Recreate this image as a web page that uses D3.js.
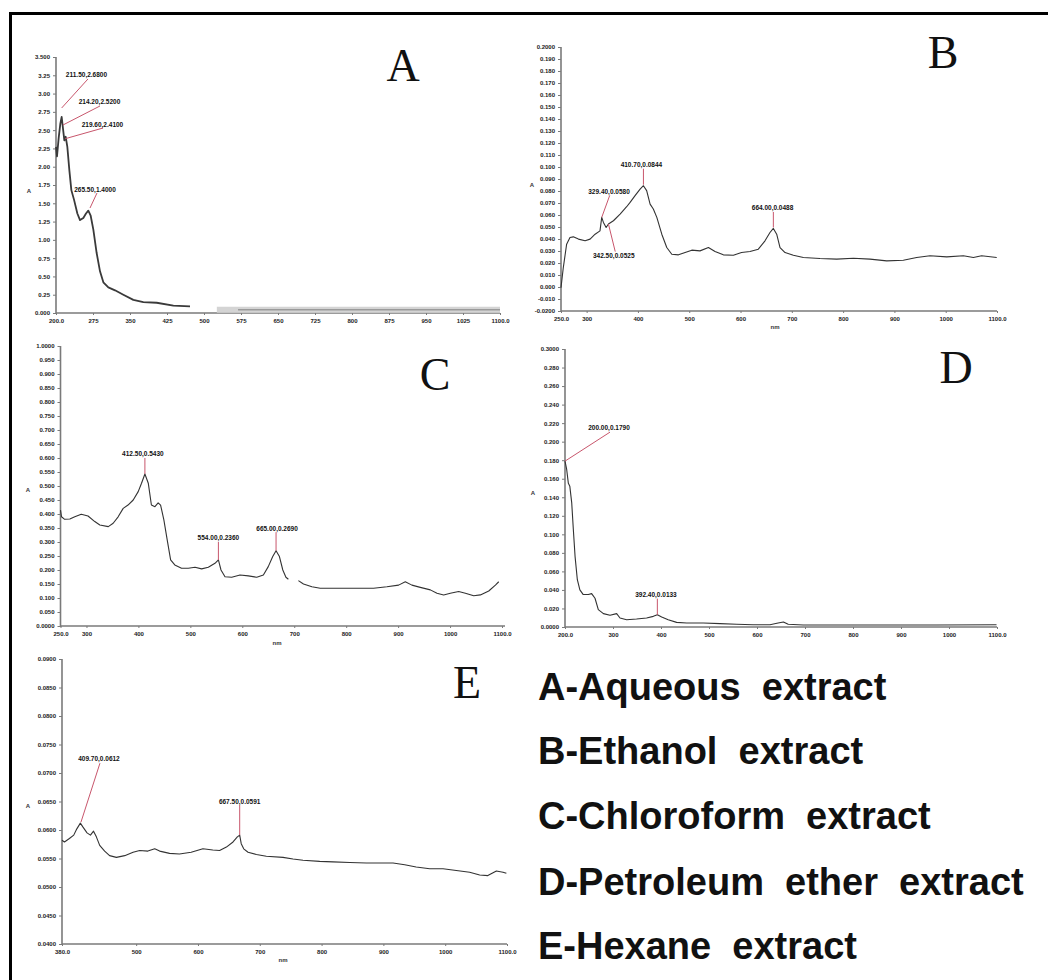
<!DOCTYPE html>
<html><head><meta charset="utf-8">
<script src="https://cdn.jsdelivr.net/npm/d3@7/dist/d3.min.js"></script>
<style>body{margin:0;background:#fff}svg{display:block}</style>
</head><body>
<svg id="chart" width="1048" height="980"></svg>
<script>
// ---------------- DATA ----------------
// Panel A – Aqueous extract
const aWave = [200,202,205.4,208.8,211.5,214.2,216.9,219.6,223,227.1,231.1,236.5,243.3,248.7,255.4,260.8,265.5,270.3,275.7,282.4,289.2,296,306.1,319.6,336.5,356.8,377,404.1,437.9,471.6];
const aAbs  = [2.27,2.14,2.39,2.59,2.68,2.52,2.36,2.41,2.27,1.95,1.68,1.55,1.36,1.27,1.30,1.36,1.40,1.33,1.14,0.82,0.57,0.42,0.35,0.31,0.25,0.18,0.15,0.14,0.10,0.09];
const aTailWave = [526,569,700,850,1000,1100];
const aTailAbs  = [0.045,0.045,0.045,0.045,0.045,0.045];
const aPeakWave = [211.5,214.2,219.6,265.5];
const aPeakAbs  = [2.68,2.52,2.41,1.40];
const aXTicks = [200,275,350,425,500,575,650,725,800,875,950,1025,1100];
const aXLabels = ["200.0","275","350","425","500","575","650","725","800","875","950","1025","1100.0"];
const aYTicks = [0,0.25,0.5,0.75,1,1.25,1.5,1.75,2,2.25,2.5,2.75,3,3.25,3.5];
const aYLabels = ["0.000","0.25","0.50","0.75","1.00","1.25","1.50","1.75","2.00","2.25","2.50","2.75","3.00","3.25","3.500"];

// Panel B – Ethanol extract
const bWave = [250,254.5,261,267.5,274,284,297,306.7,316.5,326,329.4,332.7,338,342.5,352.2,365.2,378,384.7,394.4,404.2,410.7,417,423.7,430,436.8,446.5,456.2,466,479,492,505,521,537.4,550.3,566.5,586,602,618.5,634.7,647.7,657.4,664,670.5,677,686.8,703,722.5,755,787.5,820,852.4,885,917.4,943.4,969.4,1002,1034.4,1054,1070,1099.5];
const bAbs  = [-0.0005,0.0162,0.0357,0.0413,0.0418,0.0399,0.0385,0.0399,0.044,0.0468,0.058,0.0538,0.0496,0.0525,0.0552,0.0608,0.0669,0.0705,0.0761,0.0816,0.0844,0.0803,0.0691,0.065,0.058,0.044,0.0329,0.0273,0.0268,0.0287,0.0307,0.0301,0.0329,0.0296,0.0268,0.0265,0.0287,0.0296,0.0315,0.0385,0.0454,0.0488,0.044,0.0329,0.0287,0.0265,0.0246,0.0237,0.0232,0.024,0.0232,0.0218,0.0223,0.0246,0.026,0.0251,0.026,0.0246,0.026,0.0246];
const bPeakWave = [410.7,329.4,342.5,664];
const bPeakAbs  = [0.0844,0.058,0.0525,0.0488];
const bXTicks = [250,300,400,500,600,700,800,900,1000,1100];
const bXLabels = ["250.0","300","400","500","600","700","800","900","1000","1100.0"];
const bYTicks = [-0.02,-0.01,0,0.01,0.02,0.03,0.04,0.05,0.06,0.07,0.08,0.09,0.1,0.11,0.12,0.13,0.14,0.15,0.16,0.17,0.18,0.19,0.2];
const bYLabels = ["-0.0200","-0.010","0.000","0.010","0.020","0.030","0.040","0.050","0.060","0.070","0.080","0.090","0.100","0.110","0.120","0.130","0.140","0.150","0.160","0.170","0.180","0.190","0.2000"];

// Panel C – Chloroform extract (null = gap in trace)
const cWave = [250,252,258,268,277.5,290,303,316,325.7,342,351.4,361,370.7,380,390,399.6,406,412.5,419,425,431.8,438,442.7,449,455.5,462,470,483,496,509,521.7,534.6,547.4,554,559,566.7,579.6,595.6,611.7,627.8,640.6,650,658.6,665,671.5,678,684,688.7,698,708,717.8,734,750,775.6,814,852.7,878.4,901,913.8,926.6,942.7,962,974.8,987.7,1000.5,1016.6,1029.5,1045.5,1058.4,1074.5,1087.3,1093.7];
const cAbs  = [0.414,0.39,0.381,0.382,0.39,0.399,0.393,0.373,0.361,0.355,0.367,0.39,0.42,0.432,0.45,0.48,0.51,0.543,0.51,0.432,0.426,0.44,0.432,0.379,0.307,0.236,0.218,0.206,0.206,0.21,0.204,0.21,0.224,0.236,0.2,0.176,0.174,0.182,0.179,0.174,0.182,0.212,0.248,0.269,0.248,0.2,0.174,0.167,null,0.162,0.15,0.14,0.135,0.135,0.135,0.135,0.14,0.146,0.158,0.146,0.138,0.129,0.117,0.111,0.117,0.123,0.117,0.108,0.111,0.125,0.146,0.158];
const cPeakWave = [412.5,554,665];
const cPeakAbs  = [0.543,0.236,0.269];
const cXTicks = [250,300,400,500,600,700,800,900,1000,1100];
const cXLabels = ["250.0","300","400","500","600","700","800","900","1000","1100.0"];
const cYTicks = [0,0.05,0.1,0.15,0.2,0.25,0.3,0.35,0.4,0.45,0.5,0.55,0.6,0.65,0.7,0.75,0.8,0.85,0.9,0.95,1];
const cYLabels = ["0.0000","0.050","0.100","0.150","0.200","0.250","0.300","0.350","0.400","0.450","0.500","0.550","0.600","0.650","0.700","0.750","0.800","0.850","0.900","0.950","1.0000"];

// Panel D – Petroleum ether extract
const dWave = [200,203.5,207,210,214,217.4,221,225.7,231,238,248.6,255.5,262.5,269.4,280,293.8,307.6,314.6,328.5,349,370,384,392.4,401.4,415,432.6,453.5,488,523,557.6,592,627,644,655,665,696.5,766,835,905,974.3,1099];
const dAbs  = [0.179,0.17,0.155,0.152,0.134,0.105,0.076,0.051,0.04,0.035,0.035,0.036,0.031,0.0187,0.0144,0.0126,0.0144,0.0097,0.0079,0.0086,0.0097,0.0115,0.0133,0.0108,0.0079,0.005,0.0043,0.0043,0.0036,0.0029,0.0025,0.0025,0.0043,0.0054,0.0029,0.0022,0.0022,0.0022,0.0022,0.0022,0.0025];
const dPeakWave = [200,392.4];
const dPeakAbs  = [0.179,0.0133];
const dXTicks = [200,300,400,500,600,700,800,900,1000,1100];
const dXLabels = ["200.0","300","400","500","600","700","800","900","1000","1100.0"];
const dYTicks = [0,0.02,0.04,0.06,0.08,0.1,0.12,0.14,0.16,0.18,0.2,0.22,0.24,0.26,0.28,0.3];
const dYLabels = ["0.0000","0.020","0.040","0.060","0.080","0.100","0.120","0.140","0.160","0.180","0.200","0.220","0.240","0.260","0.280","0.3000"];

// Panel E – Hexane extract
const eWave = [380,384,392,399,404,409.7,414,420.5,426,431,435.6,441,449,457,468,481.4,495,505.7,519,530,538,554,570,589,608,624,635,646,656.7,663.7,667.5,670,674,681,694.5,710.6,737.6,753.8,770,797,818.5,845.5,872.5,894,915.6,934.5,953,975,996.5,1018,1039.6,1055.8,1069,1082.8,1093.6,1099];
const eAbs  = [0.0582,0.0579,0.0585,0.0591,0.0602,0.0612,0.0605,0.0595,0.0591,0.0598,0.0588,0.0573,0.0563,0.0555,0.0552,0.0555,0.0561,0.0564,0.0563,0.0567,0.0563,0.0559,0.0558,0.0561,0.0567,0.0565,0.0564,0.057,0.0579,0.0588,0.0591,0.0576,0.0567,0.0561,0.0557,0.0554,0.0552,0.0549,0.0547,0.0545,0.0544,0.0543,0.0542,0.0542,0.0542,0.0539,0.0535,0.0532,0.0532,0.0529,0.0526,0.0521,0.052,0.0528,0.0526,0.0524];
const ePeakWave = [409.7,667.5];
const ePeakAbs  = [0.0612,0.0591];
const eXTicks = [380,500,600,700,800,900,1000,1100];
const eXLabels = ["380.0","500","600","700","800","900","1000","1100.0"];
const eYTicks = [0.04,0.045,0.05,0.055,0.06,0.065,0.07,0.075,0.08,0.085,0.09];
const eYLabels = ["0.0400","0.0450","0.0500","0.0550","0.0600","0.0650","0.0700","0.0750","0.0800","0.0850","0.0900"];

const legendLabels = ["A-Aqueous  extract","B-Ethanol  extract","C-Chloroform  extract","D-Petroleum  ether  extract","E-Hexane  extract"];

// ---------------- LAYOUT ----------------
const svg = d3.select("#chart");
svg.append("rect").attr("width",1048).attr("height",980).attr("fill","#fff");
// frame (top + left only)
svg.append("line").attr("x1",9).attr("x2",1048).attr("y1",13.5).attr("y2",13.5).attr("stroke","#000").attr("stroke-width",3);
svg.append("line").attr("x1",10.5).attr("x2",10.5).attr("y1",12).attr("y2",980).attr("stroke","#000").attr("stroke-width",3);

const panels = [
  {wave:aWave, abs:aAbs, pw:aPeakWave, pa:aPeakAbs, xt:aXTicks, xl:aXLabels, yt:aYTicks, yl:aYLabels,
   xd:[200,1100], yd:[0,3.5], xr:[56,500], yr:[313,57], axisEnd:500,
   stroke:"#3a3a3a", sw:1.8, letter:"A", lx:403, ly:81, yTitle:[29,193], xTitle:null,
   ann:[ {s:[0,-9],e:[26.3,-38],l:[24.8,-40]}, {s:[0,-3.7],e:[37,-22.7],l:[36.5,-24.2]},
         {s:[-0.5,2],e:[37.3,-8.7],l:[36.8,-10.2]}, {s:[1.7,-2.6],e:[8.7,-17.6],l:[6.7,-19]} ]},
  {wave:bWave, abs:bAbs, pw:bPeakWave, pa:bPeakAbs, xt:bXTicks, xl:bXLabels, yt:bYTicks, yl:bYLabels,
   xd:[250,1100], yd:[-0.02,0.2], xr:[561,997], yr:[311,47], axisEnd:997,
   stroke:"#333", sw:1.1, letter:"B", lx:943, ly:68, yTitle:[532,187], xTitle:[775,329],
   ann:[ {s:[0,-1],e:[0,-17],l:[-2,-19]}, {s:[0,0],e:[8,-22],l:[7.3,-23.5]},
         {s:[0,0],e:[6.8,27.6],l:[5.3,33.6]}, {s:[0,-1],e:[0,-16.5],l:[-0.8,-18]} ]},
  {wave:cWave, abs:cAbs, pw:cPeakWave, pa:cPeakAbs, xt:cXTicks, xl:cXLabels, yt:cYTicks, yl:cYLabels,
   xd:[250,1100], yd:[0,1], xr:[60.5,502], yr:[626,346], axisEnd:505,
   stroke:"#333", sw:1.1, letter:"C", lx:435, ly:390, yTitle:[28,492], xTitle:[277,645],
   ann:[ {s:[0,0],e:[0,-16],l:[-2,-17.5]}, {s:[0,0],e:[0,-18],l:[0,-19.5]}, {s:[0,0],e:[0,-18.5],l:[1,-20]} ]},
  {wave:dWave, abs:dAbs, pw:dPeakWave, pa:dPeakAbs, xt:dXTicks, xl:dXLabels, yt:dYTicks, yl:dYLabels,
   xd:[200,1100], yd:[0,0.3], xr:[565,997], yr:[627,349], axisEnd:997,
   stroke:"#333", sw:1.1, letter:"D", lx:956, ly:383, yTitle:[533,495], xTitle:null,
   ann:[ {s:[0,0],e:[45,-29],l:[44,-31]}, {s:[0,0],e:[0,-16],l:[-1.4,-17.7]} ]},
  {wave:eWave, abs:eAbs, pw:ePeakWave, pa:ePeakAbs, xt:eXTicks, xl:eXLabels, yt:eYTicks, yl:eYLabels,
   xd:[380,1100], yd:[0.04,0.09], xr:[62,507], yr:[944,659], axisEnd:507,
   stroke:"#333", sw:1.1, letter:"E", lx:467, ly:698, yTitle:[28,808], xTitle:[283,962],
   ann:[ {s:[0.6,-1],e:[19.6,-60],l:[18.6,-62]}, {s:[0,0],e:[0,-30],l:[0,-31.5]} ]}
];

const tickFont = "'Liberation Sans', Arial, sans-serif";
const fmtW = d3.format(".2f"), fmtA = d3.format(".4f");

panels.forEach((p, idx) => {
  const x = d3.scaleLinear().domain(p.xd).range(p.xr);
  const y = d3.scaleLinear().domain(p.yd).range(p.yr);
  const g = svg.append("g");
  const x0 = p.xr[0], yb = p.yr[0], yt = p.yr[1];

  // axes lines
  g.append("line").attr("x1",x0).attr("x2",x0).attr("y1",yt).attr("y2",yb+1)
    .attr("stroke","#7a7a7a").attr("stroke-width",1.6);
  g.append("line").attr("x1",x0).attr("x2",p.axisEnd).attr("y1",yb).attr("y2",yb)
    .attr("stroke","#7a7a7a").attr("stroke-width",1.6);

  // y ticks
  const yAxis = d3.axisLeft(y).tickValues(p.yt).tickSize(3).tickPadding(3)
    .tickFormat((d,i) => p.yl[i]);
  const ya = g.append("g").attr("transform",`translate(${x0},0)`).call(yAxis);
  ya.select(".domain").remove();
  ya.selectAll("line").attr("stroke","#7a7a7a");
  ya.selectAll("text").attr("font-family",tickFont).attr("font-size",6).attr("font-weight","bold").attr("fill","#222");

  // x ticks
  const xAxis = d3.axisBottom(x).tickValues(p.xt).tickSize(2).tickPadding(4)
    .tickFormat((d,i) => p.xl[i]);
  const xa = g.append("g").attr("transform",`translate(0,${yb})`).call(xAxis);
  xa.select(".domain").remove();
  xa.selectAll("line").attr("stroke","#7a7a7a");
  xa.selectAll("text").attr("font-family",tickFont).attr("font-size",6).attr("font-weight","bold").attr("fill","#222");

  // axis titles
  g.append("text").attr("x",p.yTitle[0]).attr("y",p.yTitle[1]).text("A")
    .attr("font-family",tickFont).attr("font-size",6).attr("font-weight","bold").attr("fill","#333").attr("text-anchor","middle");
  if (p.xTitle) g.append("text").attr("x",p.xTitle[0]).attr("y",p.xTitle[1]).text("nm")
    .attr("font-family",tickFont).attr("font-size",6).attr("font-weight","bold").attr("fill","#333").attr("text-anchor","middle");

  // tail (panel A noisy baseline band)
  if (idx === 0) {
    const tail = aTailWave.map((w,i)=>({w, a:aTailAbs[i]}));
    const tl = d3.line().x(d=>x(d.w)).y(d=>y(d.a));
    g.append("path").attr("d",tl(tail)).attr("fill","none").attr("stroke","#d4d4d4").attr("stroke-width",6);
    g.append("path").attr("d",tl(tail.filter(d=>d.w>=569))).attr("fill","none").attr("stroke","#9a9a9a").attr("stroke-width",1.4);
  }

  // spectrum
  const pts = p.wave.map((w,i)=>({w, a:p.abs[i]}));
  const line = d3.line().defined(d=>d.a!==null).x(d=>x(d.w)).y(d=>y(d.a));
  g.append("path").attr("d",line(pts)).attr("fill","none").attr("stroke",p.stroke)
    .attr("stroke-width",p.sw).attr("stroke-linejoin","round");

  // peak annotations
  p.pw.forEach((w,i) => {
    const px = x(w), py = y(p.pa[i]), o = p.ann[i];
    g.append("line").attr("x1",px+o.s[0]).attr("y1",py+o.s[1]).attr("x2",px+o.e[0]).attr("y2",py+o.e[1])
      .attr("stroke","#c8566c").attr("stroke-width",1);
    g.append("text").attr("x",px+o.l[0]).attr("y",py+o.l[1]).attr("text-anchor","middle")
      .attr("font-family",tickFont).attr("font-size",6.5).attr("font-weight","bold").attr("fill","#111")
      .text(fmtW(w)+","+fmtA(p.pa[i]));
  });

  // panel letter
  g.append("text").attr("x",p.lx).attr("y",p.ly).attr("text-anchor","middle")
    .attr("font-family","'Liberation Serif','Times New Roman',serif").attr("font-size",46).attr("fill","#111")
    .text(p.letter);
});

// legend
const legBase = [700,764,829,895,959];
svg.append("g").selectAll("text").data(legendLabels).join("text")
  .attr("x",538).attr("y",(d,i)=>legBase[i])
  .attr("font-family","'Liberation Sans', Arial, sans-serif").attr("font-size",38).attr("font-weight","bold")
  .attr("fill","#111").style("white-space","pre").text(d=>d);
</script>
</body></html>
